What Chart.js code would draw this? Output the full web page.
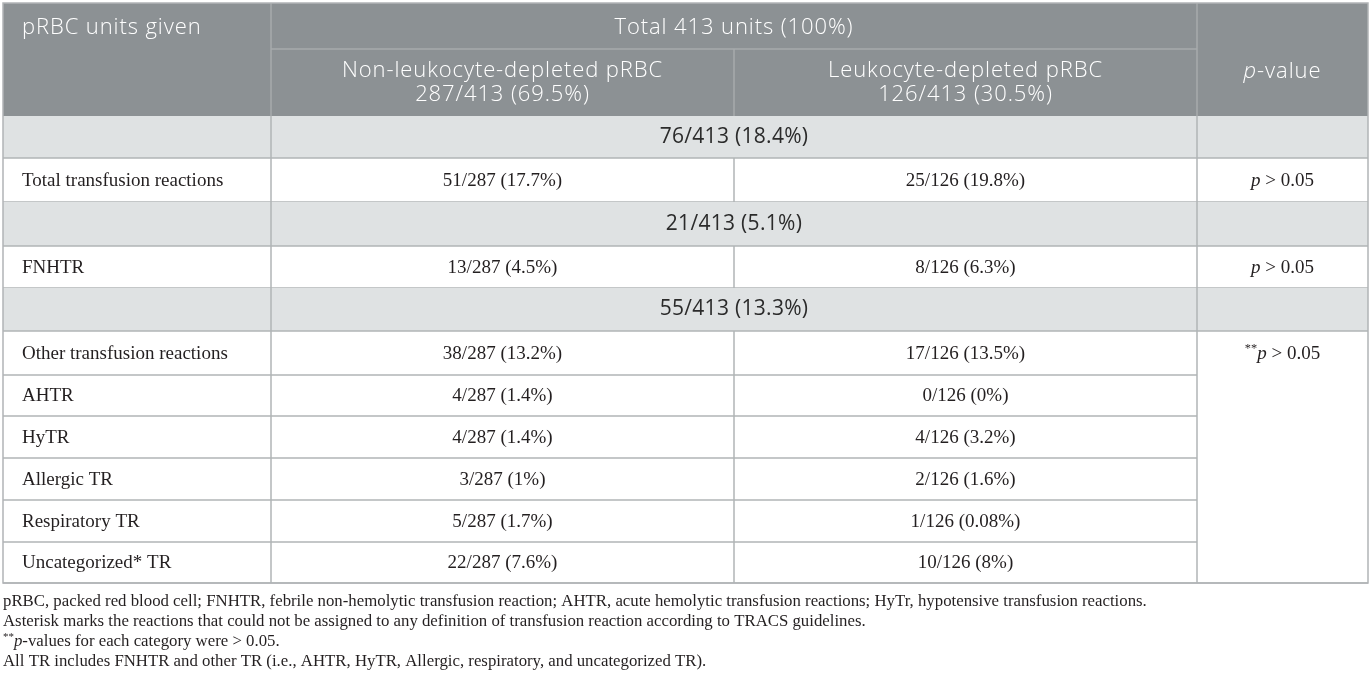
<!DOCTYPE html>
<html>
<head>
<meta charset="utf-8">
<title>Transfusion reactions by pRBC type</title>
<script src="https://cdn.jsdelivr.net/npm/chart.js@4/dist/chart.umd.min.js"></script>
<style>
  html, body { margin: 0; padding: 0; background: #fff; }
  #tabla { display: block; }
</style>
</head>
<body>
<canvas id="tabla" width="1372" height="688"></canvas>
<script>
// datos de la tabla
var encabezados = ["pRBC units given", "Total 413 units (100%)", "_p_-value"];
var grupos = ["Non-leukocyte-depleted pRBC", "Leukocyte-depleted pRBC"];
var totalesGrupo = ["287/413 (69.5%)", "126/413 (30.5%)"];
var totalesSeccion = ["76/413 (18.4%)", "21/413 (5.1%)", "55/413 (13.3%)"];
var reacciones = ["Total transfusion reactions", "FNHTR", "Other transfusion reactions", "AHTR", "HyTR", "Allergic TR", "Respiratory TR", "Uncategorized* TR"];
var noDepletado = ["51/287 (17.7%)", "13/287 (4.5%)", "38/287 (13.2%)", "4/287 (1.4%)", "4/287 (1.4%)", "3/287 (1%)", "5/287 (1.7%)", "22/287 (7.6%)"];
var depletado = ["25/126 (19.8%)", "8/126 (6.3%)", "17/126 (13.5%)", "0/126 (0%)", "4/126 (3.2%)", "2/126 (1.6%)", "1/126 (0.08%)", "10/126 (8%)"];
var valoresP = ["_p_ > 0.05", "_p_ > 0.05", "^**^_p_ > 0.05"];
// cuantas filas de reaccion tiene cada seccion
var filasSeccion = [1, 1, 6];
var notas = [
  "pRBC, packed red blood cell; FNHTR, febrile non-hemolytic transfusion reaction; AHTR, acute hemolytic transfusion reactions; HyTr, hypotensive transfusion reactions.",
  "Asterisk marks the reactions that could not be assigned to any definition of transfusion reaction according to TRACS guidelines.",
  "^**^_p_-values for each category were > 0.05.",
  "All TR includes FNHTR and other TR (i.e., AHTR, HyTR, Allergic, respiratory, and uncategorized TR)."
];

// geometria (en unidades de las escalas)
var colX = [3, 271, 734, 1197, 1368];
var filaY = [3, 49, 116, 158, 202, 246, 288, 331, 375, 416, 458, 500, 542, 583];
var notaY = [602, 622, 642, 662];

var SANS = "'Open Sans', 'DejaVu Sans', sans-serif";
var SERIF = "'Liberation Serif', 'DejaVu Serif', serif";
var cHead = "#8c9194", cHeadLine = "#a7abad", cGris = "#dfe2e3", cLinea = "#b1b4b6";
var estHead = {size: 22, fam: SANS, color: "#fff", peso: "350 ", esp: 0.9};
var estSec = {size: 21, fam: SANS, color: "#2b2b2b", peso: "400 ", esp: 0.3};
var estCuerpo = {size: 19, fam: SERIF, color: "#231f20", peso: "", esp: 0};
var estNota = {size: 16.8, fam: SERIF, color: "#231f20", peso: "", esp: 0};

// separa el texto en trozos: _x_ cursiva, ^x^ superindice
function trozos(txt){
  var r = [], re = /(_[^_]+_|\^[^\^]+\^)/g, last = 0, m;
  while((m = re.exec(txt)) != null){
    if(m.index > last) r.push({t: txt.substring(last, m.index)});
    var s = m[0];
    if(s[0] == "_") r.push({t: s.slice(1, -1), it: true});
    else r.push({t: s.slice(1, -1), sup: true});
    last = re.lastIndex;
  }
  if(last < txt.length) r.push({t: txt.substring(last)});
  return r;
}

function texto(ctx, txt, x, y, align, est){
  var partes = trozos(txt), size = est.size;
  var fuente = function(p){
    var sz = p.sup ? size*0.65 : size;
    return (p.it ? "italic " : "") + est.peso + sz + "px " + est.fam;
  };
  ctx.letterSpacing = est.esp + "px";
  var ancho = 0;
  partes.forEach(function(p){ ctx.font = fuente(p); ancho += ctx.measureText(p.t).width; });
  var x0 = align == "center" ? x - ancho/2 : x;
  ctx.fillStyle = est.color;
  ctx.textBaseline = "middle";
  ctx.textAlign = "left";
  partes.forEach(function(p){
    ctx.font = fuente(p);
    ctx.fillText(p.t, x0, p.sup ? y - size*0.3 : y);
    x0 += ctx.measureText(p.t).width;
  });
  ctx.letterSpacing = "0px";
}

var pluginTabla = {
  id: "tabla",
  afterDraw: function(chart){
    var ctx = chart.ctx, sx = chart.scales.x, sy = chart.scales.y;
    var X = function(v){ return sx.getPixelForValue(v); };
    var Y = function(v){ return sy.getPixelForValue(v); };
    var rect = function(x1, y1, x2, y2, c){ ctx.fillStyle = c; ctx.fillRect(X(x1), Y(y1), X(x2)-X(x1), Y(y2)-Y(y1)); };
    var linea = function(x1, y1, x2, y2, c){
      ctx.strokeStyle = c; ctx.lineWidth = 1.5;
      ctx.beginPath(); ctx.moveTo(X(x1), Y(y1)); ctx.lineTo(X(x2), Y(y2)); ctx.stroke();
    };
    ctx.save();

    // encabezado
    rect(colX[0], filaY[0], colX[4], filaY[2], cHead);
    linea(colX[1], filaY[1], colX[3], filaY[1], cHeadLine);
    linea(colX[1], filaY[0], colX[1], filaY[2], cHeadLine);
    linea(colX[3], filaY[0], colX[3], filaY[2], cHeadLine);
    linea(colX[2], filaY[1], colX[2], filaY[2], cHeadLine);
    texto(ctx, encabezados[0], X(colX[0]+19), Y(28), "left", estHead);
    texto(ctx, encabezados[1], X((colX[1]+colX[3])/2), Y(28), "center", estHead);
    texto(ctx, encabezados[2], X((colX[3]+colX[4])/2), Y(72), "center", estHead);
    for(var g=0; g<2; g++){
      var cx = X((colX[g+1]+colX[g+2])/2);
      texto(ctx, grupos[g], cx, Y(71), "center", estHead);
      texto(ctx, totalesGrupo[g], cx, Y(95), "center", estHead);
    }

    // cuerpo
    var f = 2, r = 0;
    for(var s=0; s<totalesSeccion.length; s++){
      var y1 = filaY[f], y2 = filaY[f+1];
      rect(colX[0], y1, colX[4], y2, cGris);
      linea(colX[0], y2, colX[4], y2, cLinea);
      linea(colX[1], y1, colX[1], y2, cLinea);
      linea(colX[3], y1, colX[3], y2, cLinea);
      texto(ctx, totalesSeccion[s], X((colX[1]+colX[3])/2), Y((y1+y2)/2), "center", estSec);
      f++;
      var fIni = f;
      for(var k=0; k<filasSeccion[s]; k++){
        y1 = filaY[f]; y2 = filaY[f+1];
        linea(colX[0], y2, colX[3], y2, cLinea);
        linea(colX[1], y1, colX[1], y2, cLinea);
        linea(colX[2], y1, colX[2], y2, cLinea);
        linea(colX[3], y1, colX[3], y2, cLinea);
        var ym = Y((y1+y2)/2 + 1);
        texto(ctx, reacciones[r], X(colX[0]+19), ym, "left", estCuerpo);
        texto(ctx, noDepletado[r], X((colX[1]+colX[2])/2), ym, "center", estCuerpo);
        texto(ctx, depletado[r], X((colX[2]+colX[3])/2), ym, "center", estCuerpo);
        r++; f++;
      }
      // celda del valor p (combinada)
      linea(colX[3], filaY[f], colX[4], filaY[f], cLinea);
      texto(ctx, valoresP[s], X((colX[3]+colX[4])/2), Y((filaY[fIni]+filaY[fIni+1])/2 + 1), "center", estCuerpo);
    }

    // borde exterior
    ctx.strokeStyle = cLinea; ctx.lineWidth = 1.5;
    ctx.strokeRect(X(colX[0]), Y(filaY[0]), X(colX[4])-X(colX[0]), Y(filaY[filaY.length-1])-Y(filaY[0]));

    // notas al pie
    for(var n=0; n<notas.length; n++){
      texto(ctx, notas[n], X(colX[0]), Y(notaY[n]), "left", estNota);
    }
    ctx.restore();
  }
};

var tabla = new Chart(document.getElementById("tabla"), {
  type: "scatter",
  data: { datasets: [] },
  options: {
    responsive: false,
    animation: false,
    layout: { padding: 0 },
    scales: {
      x: { type: "linear", min: 0, max: 1372, display: false },
      y: { type: "linear", min: 0, max: 688, reverse: true, display: false }
    },
    plugins: { legend: { display: false }, tooltip: { enabled: false } }
  },
  plugins: [pluginTabla]
});
</script>
</body>
</html>
